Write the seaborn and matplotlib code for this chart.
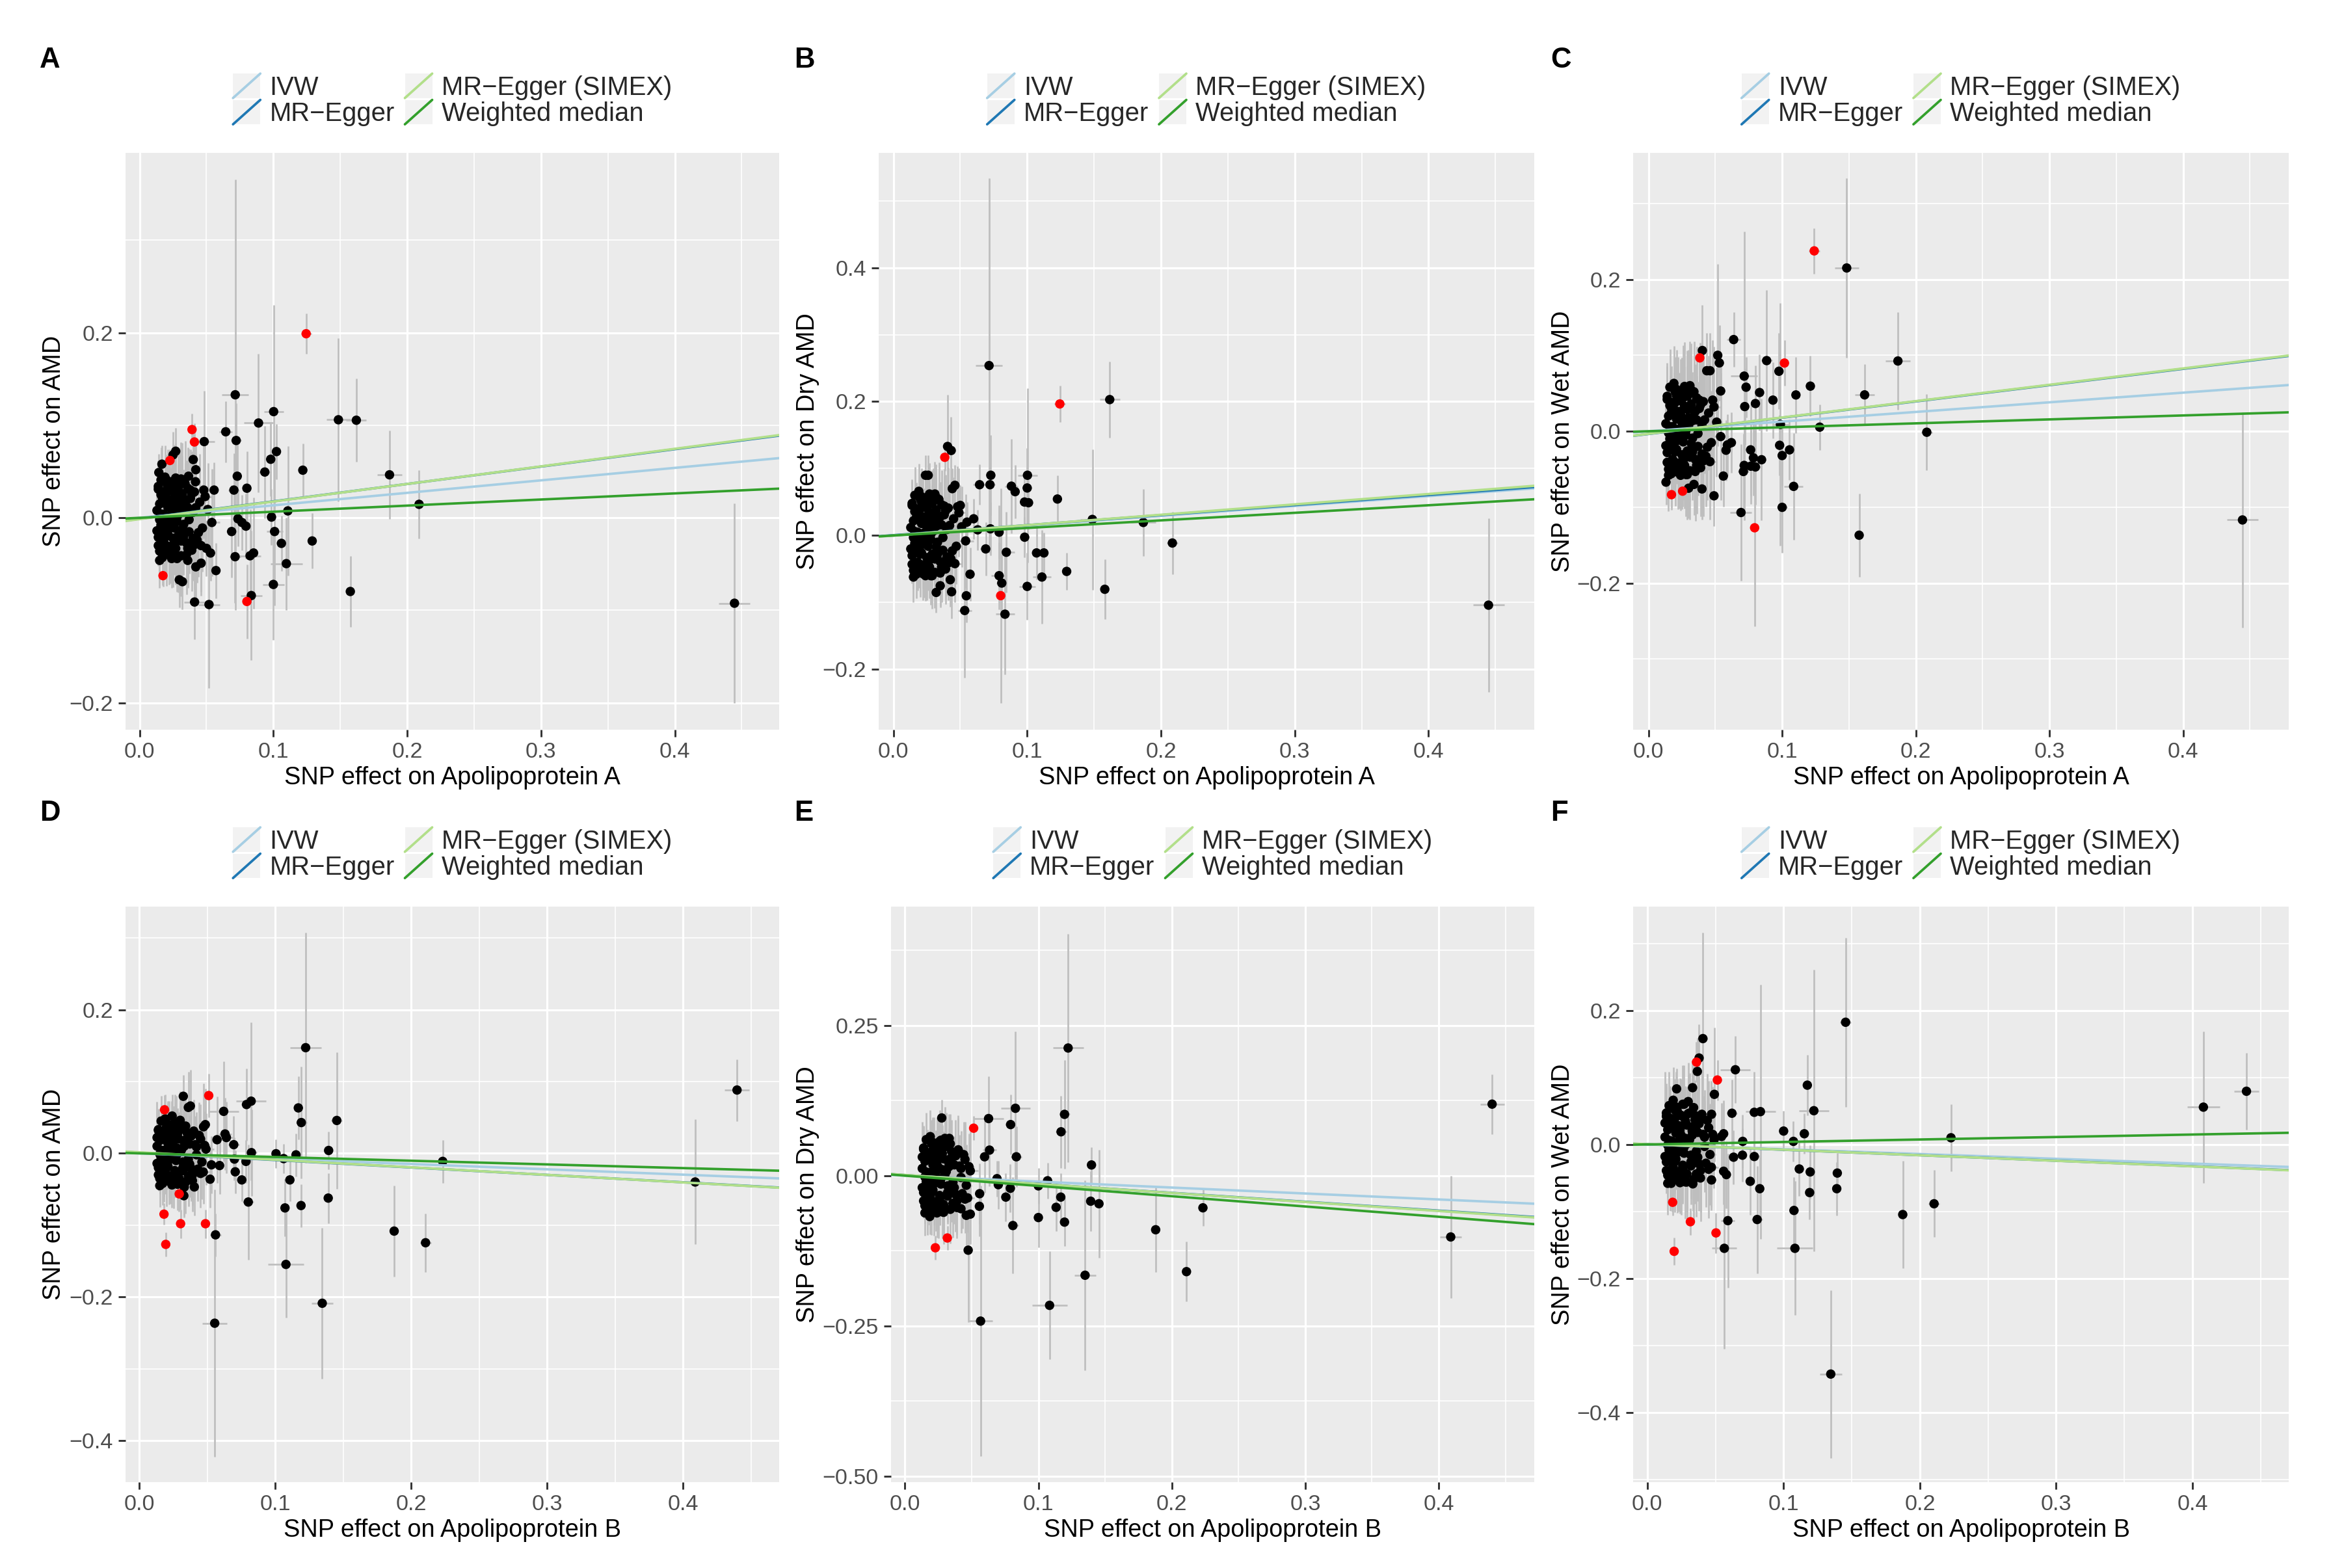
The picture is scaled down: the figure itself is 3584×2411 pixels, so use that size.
import numpy as np
import pandas as pd
import matplotlib
matplotlib.use("Agg")
import matplotlib.pyplot as plt
import seaborn as sns
from matplotlib.lines import Line2D
from matplotlib.patches import Rectangle
from matplotlib.legend_handler import HandlerBase

# ---------------- data ----------------
METHODS = ["IVW", "MR\u2212Egger", "MR\u2212Egger (SIMEX)", "Weighted median"]
METHOD_COLORS = ["#A6CEE3", "#1F78B4", "#B2DF8A", "#33A02C"]

XTICKS = [0.0, 0.1, 0.2, 0.3, 0.4]
XTICKLABELS = ["0.0", "0.1", "0.2", "0.3", "0.4"]

# shared dense clusters (same exposure SNPs)
APOA_CX = [0.013,0.014,0.014,0.015,0.015,0.016,0.016,0.017,0.017,0.018,
           0.018,0.019,0.019,0.020,0.020,0.021,0.021,0.022,0.022,0.023,
           0.023,0.024,0.024,0.025,0.025,0.026,0.026,0.027,0.027,0.028,
           0.029,0.029,0.030,0.031,0.032,0.033,0.034,0.035,0.036,0.037,
           0.038,0.039,0.040,0.041,0.043,0.045,0.047,0.049,0.051,0.054,
           0.015,0.017,0.019,0.021,0.023,0.025,0.028,0.031,0.035,0.044,
           0.014,0.016,0.018,0.020,0.022,0.024,0.026,0.028,0.030,0.032,
           0.034,0.036,0.038,0.016,0.019,0.022,0.025,0.029,0.033,0.040,
           0.013,0.014,0.015,0.016,0.017,0.018,0.019,0.020,0.021,0.022,
           0.023,0.024,0.025,0.026,0.027,0.028,0.029,0.030,0.031,0.032,
           0.033,0.034,0.035,0.036,0.037,0.039,0.041,0.042,0.046,0.048]
APOA_CXSE = [0.002,0.002,0.003,0.002,0.003,0.002,0.003,0.002,0.003,0.002,
             0.003,0.002,0.003,0.003,0.002,0.003,0.002,0.003,0.002,0.003,
             0.002,0.003,0.004,0.002,0.003,0.003,0.002,0.004,0.003,0.003,
             0.004,0.003,0.004,0.003,0.004,0.003,0.005,0.004,0.003,0.004,
             0.005,0.004,0.003,0.005,0.004,0.005,0.004,0.005,0.004,0.006,
             0.002,0.003,0.002,0.003,0.002,0.003,0.004,0.003,0.004,0.005,
             0.002,0.003,0.002,0.003,0.002,0.003,0.003,0.003,0.004,0.003,
             0.004,0.004,0.004,0.002,0.003,0.003,0.003,0.004,0.004,0.005,
             0.002,0.002,0.003,0.002,0.003,0.002,0.003,0.003,0.002,0.003,
             0.003,0.002,0.003,0.003,0.004,0.003,0.003,0.004,0.003,0.004,
             0.004,0.003,0.004,0.004,0.005,0.004,0.005,0.004,0.005,0.005]
APOB_CX = [0.013,0.014,0.014,0.015,0.015,0.016,0.016,0.017,0.017,0.018,
           0.018,0.019,0.019,0.020,0.020,0.021,0.021,0.022,0.022,0.023,
           0.023,0.024,0.024,0.025,0.026,0.026,0.027,0.028,0.029,0.030,
           0.031,0.032,0.033,0.034,0.035,0.036,0.038,0.039,0.041,0.043,
           0.045,0.047,0.049,0.015,0.017,0.019,0.021,0.023,0.025,0.027,
           0.030,0.033,0.037,0.042,0.046,
           0.014,0.016,0.018,0.020,0.022,0.024,0.026,0.028,0.030,0.032,
           0.034,0.036,0.040,0.016,0.019,0.022,0.025,0.029,0.033,0.038,
           0.013,0.014,0.015,0.016,0.017,0.018,0.019,0.020,0.021,0.022,
           0.023,0.024,0.025,0.026,0.027,0.028,0.029,0.031,0.032,0.034,
           0.035,0.037,0.039,0.040,0.042,0.044,0.045,0.048,0.013,0.018]
APOB_CXSE = [0.002,0.002,0.003,0.002,0.003,0.002,0.003,0.002,0.003,0.002,
             0.003,0.002,0.003,0.003,0.002,0.003,0.002,0.003,0.002,0.003,
             0.002,0.003,0.004,0.002,0.003,0.003,0.004,0.003,0.004,0.003,
             0.004,0.003,0.004,0.005,0.004,0.003,0.004,0.005,0.004,0.005,
             0.004,0.005,0.006,0.002,0.003,0.002,0.003,0.002,0.003,0.003,
             0.004,0.003,0.004,0.005,0.004,
             0.002,0.003,0.002,0.003,0.002,0.003,0.003,0.003,0.004,0.003,
             0.004,0.004,0.005,0.002,0.003,0.003,0.003,0.004,0.004,0.004,
             0.002,0.002,0.003,0.002,0.003,0.002,0.003,0.003,0.002,0.003,
             0.003,0.002,0.003,0.003,0.004,0.003,0.003,0.004,0.003,0.004,
             0.004,0.003,0.004,0.004,0.005,0.004,0.005,0.004,0.002,0.003]

# ----- Panel A : ApoA -> AMD
A_X = [0.0715,0.1002,0.0889,0.1486,0.162,0.0483,0.0644,0.0722,0.1023,0.098,
       0.0936,0.122,0.1868,0.2089,0.0835,0.1,0.1097,0.106,0.1009,0.0986,
       0.1108,0.129,0.1575,0.0688,0.0714,0.0826,0.0852,0.0735,0.0765,0.0795,
       0.0411,0.0519,0.0571,0.0297,0.032,0.042,0.046,0.036,0.05,0.053,
       0.0802,0.0705,0.073,0.0557,0.0401,0.042,0.027,0.025,0.0167,0.0144,
       0.0366,0.0418,0.4446]
A_Y = [0.133,0.1148,0.1025,0.106,0.1055,0.0824,0.093,0.0836,0.0716,0.0633,
       0.0495,0.0515,0.0465,0.0146,-0.084,-0.072,-0.0495,-0.0276,-0.0148,0.0008,
       0.0075,-0.025,-0.0796,-0.0148,-0.042,-0.041,-0.038,-0.001,-0.005,-0.009,
       -0.091,-0.0937,-0.057,-0.067,-0.069,-0.053,-0.049,-0.046,-0.033,-0.038,
       0.032,0.03,0.045,0.03,0.063,0.052,0.072,0.068,0.058,0.049,
       0.045,0.039,-0.0923]
A_XSE = [0.010,0.0074,0.011,0.009,0.0075,0.008,0.005,0.004,0.003,0.004,
         0.005,0.002,0.0092,0.003,0.008,0.008,0.012,0.003,0.006,0.003,
         0.002,0.002,0.002,0.004,0.004,0.008,0.003,0.003,0.003,0.003,
         0.008,0.008,0.003,0.003,0.003,0.003,0.003,0.003,0.003,0.003,
         0.003,0.004,0.003,0.003,0.003,0.003,0.002,0.002,0.002,0.002,
         0.003,0.003,0.0117]
A_YSE = [0.233,0.115,0.075,0.088,0.045,0.055,0.033,0.04,0.03,0.04,
         0.05,0.029,0.048,0.037,0.07,0.06,0.05,0.03,0.08,0.03,
         0.07,0.03,0.038,0.05,0.05,0.05,0.06,0.03,0.03,0.035,
         0.04,0.09,0.03,0.03,0.03,0.035,0.035,0.03,0.03,0.03,
         0.04,0.04,0.04,0.03,0.03,0.03,0.025,0.025,0.02,0.02,
         0.03,0.03,0.108]
A_CY = [0.008,-0.021,0.031,-0.036,0.015,0.041,-0.008,-0.043,0.022,-0.026,
        0.004,0.044,-0.012,0.027,-0.038,0.012,-0.017,0.036,-0.031,0.019,
        -0.004,0.029,-0.044,0.009,-0.022,0.039,-0.011,0.024,-0.033,0.001,
        0.033,-0.019,0.014,-0.041,0.026,-0.007,0.037,-0.027,0.011,-0.015,
        0.021,-0.035,0.006,0.028,-0.024,0.017,-0.011,0.023,0.009,-0.005,
        -0.002,0.018,-0.029,0.034,0.003,-0.039,-0.004,0.042,0.019,-0.016,
        -0.030,0.025,-0.002,0.038,-0.040,0.016,-0.027,0.007,0.036,-0.012,
        0.019,-0.033,0.030,-0.016,0.021,-0.009,0.032,-0.042,0.010,-0.022,
        -0.014,0.034,-0.046,0.004,0.028,-0.032,0.020,-0.020,0.040,-0.006,
        -0.036,0.013,0.031,-0.028,0.043,-0.044,0.021,0.005,-0.025,0.040,
        -0.020,0.013,-0.040,0.032,-0.002,0.026,-0.029,0.011,-0.030,0.030]
A_CYSE = [0.020,0.025,0.030,0.022,0.028,0.035,0.024,0.030,0.026,0.032,
          0.028,0.034,0.025,0.030,0.036,0.027,0.031,0.033,0.029,0.035,
          0.030,0.038,0.032,0.034,0.037,0.040,0.033,0.036,0.039,0.035,
          0.042,0.038,0.040,0.044,0.041,0.037,0.046,0.043,0.040,0.045,
          0.048,0.044,0.041,0.050,0.046,0.052,0.047,0.055,0.050,0.058,
          0.022,0.027,0.030,0.032,0.034,0.036,0.038,0.040,0.043,0.048,
          0.022,0.026,0.028,0.030,0.032,0.030,0.034,0.036,0.038,0.035,
          0.040,0.042,0.044,0.024,0.029,0.031,0.035,0.039,0.042,0.046,
          0.022,0.028,0.030,0.024,0.031,0.029,0.032,0.030,0.034,0.031,
          0.035,0.033,0.036,0.034,0.038,0.036,0.037,0.040,0.038,0.041,
          0.042,0.040,0.043,0.044,0.045,0.046,0.048,0.047,0.050,0.052]
A_OUT_X = [0.1245,0.0392,0.041,0.0227,0.0175,0.0802]
A_OUT_Y = [0.199,0.0954,0.082,0.062,-0.0625,-0.0904]
A_OUT_XSE = [0.004,0.003,0.003,0.002,0.002,0.003]
A_OUT_YSE = [0.022,0.017,0.02,0.012,0.012,0.04]
A_SLOPE = [0.135, 0.188, 0.190, 0.066]
A_INTERCEPT = [0.0, -0.001, -0.0014, 0.0]
A_YTICKS = [-0.2, 0.0, 0.2]
A_YTICKLABELS = ["\u22120.2", "0.0", "0.2"]
A_YMINOR = [-0.1, 0.1, 0.3]

# ----- Panel B : ApoA -> Dry AMD
B_X = [0.0715,0.1617,0.0405,0.0432,0.0728,0.1002,0.0644,0.0722,0.0882,0.091,
       0.1,0.098,0.101,0.1226,0.1487,0.1868,0.2085,0.4448,0.158,0.1295,
       0.111,0.107,0.1125,0.1,0.0844,0.079,0.081,0.0834,0.0533,0.0545,
       0.0573,0.0425,0.0435,0.032,0.035,0.0981,0.0725,0.069,0.079,0.063,
       0.024,0.026,0.05,0.044,0.046,0.055,0.06]
B_Y = [0.2538,0.203,0.133,0.127,0.09,0.09,0.0759,0.0759,0.0737,0.0655,
       0.071,0.05,0.049,0.0545,0.024,0.0195,-0.0112,-0.104,-0.0803,-0.0536,
       -0.062,-0.026,-0.026,-0.076,-0.025,-0.06,-0.071,-0.1175,-0.112,-0.09,
       -0.0578,-0.066,-0.084,-0.085,-0.075,-0.0025,0.01,-0.02,0.005,0.0085,
       0.09,0.09,0.045,0.07,0.075,0.02,0.025]
B_XSE = [0.010,0.0075,0.003,0.003,0.003,0.0074,0.005,0.004,0.005,0.003,
         0.003,0.003,0.003,0.002,0.009,0.0092,0.004,0.0117,0.003,0.002,
         0.007,0.003,0.003,0.006,0.006,0.006,0.004,0.007,0.005,0.003,
         0.003,0.003,0.003,0.003,0.003,0.003,0.003,0.004,0.003,0.003,
         0.002,0.002,0.003,0.003,0.003,0.003,0.003]
B_YSE = [0.28,0.057,0.077,0.05,0.06,0.13,0.03,0.045,0.07,0.04,
         0.06,0.04,0.04,0.035,0.105,0.05,0.047,0.13,0.045,0.028,
         0.07,0.04,0.03,0.05,0.06,0.05,0.05,0.09,0.1,0.04,
         0.04,0.04,0.04,0.03,0.03,0.03,0.04,0.04,0.04,0.03,
         0.03,0.03,0.03,0.03,0.03,0.03,0.03]
B_CY = [0.012,-0.030,0.045,-0.052,0.022,0.060,-0.012,-0.058,0.034,-0.040,
        0.005,0.066,-0.020,0.040,-0.049,0.018,-0.026,0.052,-0.044,0.028,
        -0.006,0.042,-0.060,0.013,-0.033,0.057,-0.016,0.035,-0.047,0.002,
        0.048,-0.028,0.020,-0.055,0.038,-0.010,0.054,-0.039,0.016,-0.022,
        0.031,-0.050,0.009,0.041,-0.035,0.025,-0.016,0.034,0.013,-0.008,
        -0.003,0.026,-0.042,0.050,0.004,-0.054,-0.006,0.062,0.028,-0.023,
        -0.043,0.036,-0.003,0.055,-0.057,0.023,-0.038,0.010,0.052,-0.017,
        0.028,-0.047,0.044,-0.023,0.030,-0.013,0.046,-0.060,0.015,-0.032,
        -0.020,0.048,-0.062,0.006,0.040,-0.045,0.028,-0.028,0.058,-0.008,
        -0.050,0.018,0.044,-0.040,0.062,-0.060,0.030,0.007,-0.035,0.057,
        -0.028,0.018,-0.056,0.046,-0.003,0.037,-0.041,0.015,-0.042,0.043]
B_CYSE = [0.025,0.030,0.036,0.027,0.034,0.042,0.029,0.036,0.031,0.038,
          0.034,0.041,0.030,0.036,0.043,0.032,0.037,0.040,0.035,0.042,
          0.036,0.046,0.038,0.041,0.044,0.048,0.040,0.043,0.047,0.042,
          0.050,0.046,0.048,0.053,0.049,0.044,0.055,0.052,0.048,0.054,
          0.058,0.053,0.049,0.060,0.055,0.062,0.056,0.066,0.060,0.070,
          0.026,0.032,0.036,0.038,0.041,0.043,0.046,0.048,0.052,0.058,
          0.028,0.032,0.035,0.038,0.040,0.038,0.043,0.045,0.048,0.044,
          0.050,0.053,0.055,0.030,0.036,0.039,0.044,0.049,0.053,0.058,
          0.030,0.036,0.038,0.032,0.039,0.037,0.040,0.038,0.042,0.039,
          0.043,0.041,0.044,0.042,0.046,0.044,0.045,0.048,0.046,0.049,
          0.050,0.048,0.051,0.052,0.053,0.054,0.056,0.055,0.058,0.060]
B_OUT_X = [0.1244,0.0384,0.0802]
B_OUT_Y = [0.1965,0.1168,-0.0898]
B_OUT_XSE = [0.004,0.003,0.003]
B_OUT_YSE = [0.027,0.02,0.16]
B_SLOPE = [0.147, 0.150, 0.155, 0.113]
B_INTERCEPT = [0.0, 0.0005, 0.0, 0.0]
B_YTICKS = [-0.2, 0.0, 0.2, 0.4]
B_YTICKLABELS = ["\u22120.2", "0.0", "0.2", "0.4"]
B_YMINOR = [-0.1, 0.1, 0.3, 0.5]

# ----- Panel C : ApoA -> Wet AMD
C_X = [0.1483,0.0637,0.0403,0.0518,0.053,0.0884,0.1866,0.0976,0.0436,0.046,
       0.0716,0.1211,0.073,0.054,0.1103,0.1617,0.0831,0.0931,0.08,0.072,
       0.1281,0.0987,0.2082,0.0981,0.1055,0.1,0.0764,0.0785,0.08,0.0765,
       0.0716,0.071,0.0846,0.1086,0.1,0.0692,0.1576,0.4444,0.03,0.034,
       0.04,0.049,0.056,0.0131,0.059,0.058,0.062]
C_Y = [0.215,0.1207,0.1063,0.1,0.09,0.093,0.0925,0.079,0.0797,0.0797,
       0.0726,0.0594,0.058,0.053,0.0478,0.0479,0.051,0.041,0.0365,0.0325,
       0.0054,0.009,-0.0013,-0.0185,-0.0245,-0.032,-0.0245,-0.035,-0.047,-0.046,
       -0.045,-0.053,-0.0375,-0.0726,-0.1002,-0.107,-0.1369,-0.1168,-0.075,-0.07,
       -0.076,-0.085,-0.059,-0.067,-0.018,-0.025,-0.015]
C_XSE = [0.009,0.005,0.003,0.003,0.003,0.004,0.0092,0.003,0.003,0.003,
         0.010,0.002,0.003,0.003,0.003,0.0075,0.003,0.003,0.003,0.003,
         0.002,0.006,0.004,0.003,0.003,0.003,0.003,0.003,0.005,0.003,
         0.004,0.004,0.003,0.007,0.004,0.008,0.003,0.0117,0.003,0.003,
         0.003,0.003,0.003,0.002,0.003,0.003,0.003]
C_YSE = [0.118,0.036,0.06,0.12,0.05,0.093,0.064,0.05,0.05,0.05,
         0.19,0.04,0.04,0.04,0.05,0.04,0.05,0.05,0.05,0.05,
         0.03,0.16,0.05,0.04,0.04,0.04,0.06,0.05,0.05,0.05,
         0.05,0.05,0.08,0.07,0.06,0.09,0.055,0.142,0.04,0.04,
         0.04,0.04,0.04,0.03,0.04,0.04,0.04]
C_CY = [0.010,-0.028,0.042,-0.050,0.020,0.058,-0.010,-0.056,0.031,-0.037,
        0.006,0.063,-0.018,0.038,-0.046,0.016,-0.024,0.050,-0.042,0.026,
        -0.005,0.040,-0.058,0.012,-0.031,0.055,-0.014,0.033,-0.045,0.001,
        0.046,-0.026,0.018,-0.052,0.036,-0.009,0.052,-0.037,0.015,-0.020,
        0.030,-0.048,0.008,0.039,-0.033,0.024,-0.015,0.032,0.012,-0.007,
        -0.002,0.024,-0.040,0.047,0.003,-0.051,-0.005,0.060,0.026,-0.021,
        -0.041,0.034,-0.003,0.052,-0.054,0.022,-0.036,0.009,0.049,-0.016,
        0.027,-0.045,0.041,-0.022,0.029,-0.012,0.044,-0.057,0.014,-0.030,
        -0.019,0.046,-0.058,0.006,0.038,-0.043,0.027,-0.027,0.055,-0.008,
        -0.048,0.017,0.042,-0.038,0.059,-0.057,0.029,0.007,-0.034,0.054,
        -0.027,0.017,-0.053,0.044,-0.003,0.035,-0.039,0.015,-0.040,0.041]
C_CYSE = [0.030,0.036,0.044,0.033,0.041,0.050,0.035,0.044,0.038,0.046,
          0.041,0.049,0.036,0.044,0.052,0.039,0.045,0.048,0.042,0.051,
          0.044,0.055,0.046,0.050,0.053,0.058,0.048,0.052,0.057,0.050,
          0.060,0.055,0.058,0.064,0.059,0.053,0.066,0.062,0.058,0.065,
          0.070,0.064,0.059,0.072,0.066,0.075,0.068,0.079,0.072,0.084,
          0.032,0.038,0.043,0.046,0.049,0.052,0.055,0.058,0.062,0.070,
          0.034,0.039,0.042,0.046,0.049,0.046,0.052,0.055,0.058,0.054,
          0.061,0.064,0.067,0.036,0.044,0.047,0.053,0.059,0.064,0.070,
          0.036,0.044,0.047,0.038,0.048,0.045,0.050,0.047,0.052,0.049,
          0.054,0.051,0.055,0.053,0.058,0.055,0.057,0.061,0.058,0.062,
          0.064,0.061,0.065,0.067,0.068,0.070,0.073,0.071,0.076,0.079]
C_OUT_X = [0.124,0.0384,0.1017,0.0794,0.0172,0.0255]
C_OUT_Y = [0.2375,0.0966,0.0898,-0.1271,-0.0835,-0.0789]
C_OUT_XSE = [0.004,0.003,0.003,0.003,0.002,0.002]
C_OUT_YSE = [0.03,0.02,0.03,0.13,0.02,0.02]
C_SLOPE = [0.127, 0.2145, 0.2153, 0.052]
C_INTERCEPT = [0.0, -0.0036, -0.0034, 0.0]
C_YTICKS = [-0.2, 0.0, 0.2]
C_YTICKLABELS = ["\u22120.2", "0.0", "0.2"]
C_YMINOR = [-0.3, -0.1, 0.1, 0.3]

# ----- Panel D : ApoB -> AMD
D_X = [0.1223,0.1452,0.1169,0.1191,0.0822,0.0788,0.062,0.0323,0.0241,0.036,
       0.0375,0.0472,0.0485,0.063,0.064,0.0571,0.0694,0.0824,0.1005,0.1061,
       0.1152,0.1392,0.2231,0.0699,0.0705,0.0784,0.0753,0.0801,0.1107,0.1071,
       0.1189,0.1389,0.053,0.059,0.052,0.0404,0.03,0.033,0.0327,0.056,
       0.0554,0.1078,0.1345,0.1874,0.2105,0.4088,0.4396]
D_Y = [0.1472,0.0458,0.0633,0.0429,0.0727,0.068,0.0585,0.0795,0.052,0.064,
       0.066,0.037,0.04,0.027,0.022,0.019,0.0121,0.001,-0.0005,-0.0073,
       -0.0021,0.004,-0.0112,-0.008,-0.0257,-0.0112,-0.037,-0.0678,-0.037,-0.076,
       -0.0727,-0.0623,-0.016,-0.017,-0.036,-0.0468,-0.038,-0.047,-0.059,-0.1135,
       -0.2366,-0.1547,-0.2088,-0.1083,-0.1245,-0.0399,0.0882]
D_XSE = [0.0115,0.004,0.003,0.004,0.011,0.004,0.011,0.003,0.002,0.003,
         0.003,0.003,0.003,0.005,0.005,0.004,0.004,0.004,0.002,0.002,
         0.002,0.002,0.002,0.003,0.003,0.003,0.003,0.004,0.003,0.002,
         0.002,0.002,0.003,0.003,0.003,0.003,0.003,0.003,0.003,0.004,
         0.009,0.0132,0.008,0.003,0.004,0.004,0.009]
D_YSE = [0.16,0.095,0.044,0.078,0.11,0.05,0.07,0.03,0.03,0.05,
         0.05,0.06,0.05,0.05,0.05,0.06,0.04,0.06,0.02,0.02,
         0.03,0.026,0.03,0.03,0.03,0.03,0.03,0.08,0.03,0.04,
         0.03,0.035,0.04,0.04,0.04,0.04,0.04,0.04,0.03,0.03,
         0.186,0.074,0.105,0.063,0.041,0.087,0.043]
D_CY = [0.010,-0.020,0.032,-0.035,0.018,0.045,-0.006,-0.042,0.025,-0.028,
        0.004,0.048,-0.012,0.030,-0.038,0.014,-0.018,0.040,-0.032,0.022,
        -0.003,0.035,-0.044,0.011,-0.024,0.042,-0.010,0.027,-0.034,0.002,
        0.036,-0.020,0.016,-0.040,0.029,-0.008,0.024,-0.030,0.012,-0.022,
        0.020,-0.026,0.006,-0.001,0.021,-0.027,0.038,0.005,-0.041,-0.004,
        0.046,0.017,-0.015,0.009,-0.012,
        -0.030,0.026,-0.002,0.037,-0.039,0.016,-0.026,0.007,0.033,-0.012,
        0.019,-0.032,0.028,-0.015,0.022,-0.009,0.031,-0.042,0.010,-0.021,
        -0.014,0.033,-0.045,0.004,0.027,-0.031,0.019,-0.020,0.039,-0.006,
        -0.035,0.013,0.030,-0.027,0.042,-0.043,0.020,0.005,-0.024,0.038,
        -0.019,0.013,-0.038,0.031,-0.002,0.025,-0.028,0.011,0.022,-0.016]
D_CYSE = [0.020,0.025,0.030,0.022,0.028,0.035,0.024,0.030,0.026,0.032,
          0.028,0.034,0.025,0.030,0.036,0.027,0.031,0.033,0.029,0.035,
          0.030,0.038,0.032,0.034,0.037,0.040,0.033,0.036,0.039,0.035,
          0.042,0.038,0.040,0.044,0.041,0.037,0.046,0.043,0.040,0.045,
          0.048,0.044,0.050,0.022,0.027,0.030,0.032,0.034,0.036,0.038,
          0.040,0.043,0.046,0.048,0.052,
          0.022,0.026,0.028,0.030,0.032,0.030,0.034,0.036,0.038,0.035,
          0.040,0.042,0.044,0.024,0.029,0.031,0.035,0.039,0.042,0.046,
          0.022,0.028,0.030,0.024,0.031,0.029,0.032,0.030,0.034,0.031,
          0.035,0.033,0.036,0.034,0.038,0.036,0.037,0.040,0.038,0.041,
          0.042,0.040,0.043,0.044,0.045,0.046,0.048,0.047,0.050,0.052]
D_OUT_X = [0.051,0.0185,0.0293,0.0181,0.0303,0.0486,0.0194]
D_OUT_Y = [0.0805,0.0607,-0.0565,-0.0847,-0.098,-0.098,-0.1268]
D_OUT_XSE = [0.003,0.002,0.003,0.002,0.002,0.003,0.002]
D_OUT_YSE = [0.03,0.02,0.02,0.015,0.02,0.02,0.017]
D_SLOPE = [-0.0742, -0.1034, -0.105, -0.0514]
D_INTERCEPT = [0.0, 0.001, 0.0015, 0.0]
D_YTICKS = [-0.4, -0.2, 0.0, 0.2]
D_YTICKLABELS = ["\u22120.4", "\u22120.2", "0.0", "0.2"]
D_YMINOR = [-0.3, -0.1, 0.1, 0.3]

# ----- Panel E : ApoB -> Dry AMD
E_X = [0.1223,0.0828,0.1196,0.117,0.0792,0.0627,0.0276,0.0332,0.0835,0.0597,
       0.0634,0.1398,0.44,0.409,0.2233,0.1879,0.211,0.135,0.1084,0.0567,
       0.0474,0.0809,0.1,0.1196,0.1133,0.1168,0.1392,0.1454,0.1069,0.1,
       0.079,0.0756,0.07,0.069,0.0558,0.046,0.049,0.0186,0.056,0.042]
E_Y = [0.2124,0.1121,0.102,0.073,0.085,0.095,0.096,0.062,0.0314,0.0314,
       0.0425,0.0178,0.119,-0.102,-0.0535,-0.09,-0.1597,-0.1657,-0.2158,-0.242,
       -0.124,-0.083,-0.0697,-0.0773,-0.0527,-0.0357,-0.0425,-0.0467,-0.0085,-0.017,
       -0.021,-0.0357,-0.015,-0.005,-0.051,-0.066,-0.064,-0.068,-0.03,-0.055]
E_XSE = [0.0115,0.011,0.004,0.004,0.004,0.011,0.003,0.003,0.004,0.004,
         0.005,0.002,0.009,0.008,0.003,0.002,0.003,0.008,0.0132,0.009,
         0.003,0.004,0.003,0.002,0.003,0.003,0.003,0.003,0.003,0.003,
         0.003,0.003,0.003,0.003,0.003,0.003,0.003,0.002,0.003,0.003]
E_YSE = [0.19,0.128,0.09,0.06,0.05,0.07,0.03,0.04,0.05,0.06,
         0.06,0.03,0.05,0.102,0.03,0.07,0.05,0.158,0.09,0.225,
         0.12,0.08,0.05,0.04,0.04,0.04,0.05,0.09,0.03,0.03,
         0.04,0.04,0.04,0.03,0.05,0.05,0.05,0.03,0.05,0.04]
E_CY = [0.012,-0.028,0.044,-0.050,0.024,0.060,-0.010,-0.060,0.034,-0.040,
        0.005,0.065,-0.018,0.040,-0.052,0.018,-0.024,0.054,-0.045,0.030,
        -0.005,0.047,-0.062,0.014,-0.033,0.057,-0.014,0.037,-0.048,0.002,
        0.050,-0.028,0.021,-0.056,0.040,-0.011,0.033,-0.042,0.016,-0.030,
        0.027,-0.037,0.008,-0.002,0.029,-0.037,0.052,0.006,-0.057,-0.005,
        0.062,0.023,-0.020,0.012,-0.016,
        -0.042,0.036,-0.003,0.053,-0.057,0.024,-0.037,0.010,0.048,-0.017,
        0.028,-0.046,0.040,-0.022,0.032,-0.013,0.045,-0.061,0.015,-0.031,
        -0.020,0.046,-0.062,0.006,0.038,-0.044,0.027,-0.028,0.055,-0.008,
        -0.049,0.018,0.042,-0.038,0.059,-0.060,0.028,0.007,-0.034,0.053,
        -0.027,0.018,-0.053,0.043,-0.003,0.035,-0.039,0.015,0.031,-0.022]
E_CYSE = [0.026,0.032,0.039,0.029,0.036,0.045,0.031,0.039,0.034,0.041,
          0.036,0.044,0.032,0.039,0.047,0.035,0.040,0.043,0.038,0.045,
          0.039,0.049,0.041,0.044,0.048,0.052,0.043,0.047,0.051,0.045,
          0.055,0.049,0.052,0.057,0.053,0.048,0.060,0.056,0.052,0.058,
          0.062,0.057,0.065,0.029,0.035,0.039,0.042,0.044,0.047,0.049,
          0.052,0.056,0.060,0.062,0.068,
          0.029,0.034,0.037,0.040,0.043,0.040,0.046,0.048,0.051,0.047,
          0.054,0.057,0.060,0.032,0.038,0.042,0.047,0.053,0.057,0.062,
          0.030,0.036,0.038,0.032,0.039,0.037,0.040,0.038,0.042,0.039,
          0.043,0.041,0.044,0.042,0.046,0.044,0.045,0.048,0.046,0.049,
          0.050,0.048,0.051,0.052,0.053,0.054,0.056,0.055,0.058,0.060]
E_OUT_X = [0.0515,0.0228,0.0318]
E_OUT_Y = [0.079,-0.12,-0.1037]
E_OUT_XSE = [0.003,0.002,0.002]
E_OUT_YSE = [0.02,0.02,0.02]
E_SLOPE = [-0.099, -0.148, -0.150, -0.171]
E_INTERCEPT = [0.0, 0.001, 0.0012, 0.0]
E_YTICKS = [-0.5, -0.25, 0.0, 0.25]
E_YTICKLABELS = ["\u22120.50", "\u22120.25", "0.00", "0.25"]
E_YMINOR = [-0.375, -0.125, 0.125, 0.375]

# ----- Panel F : ApoB -> Wet AMD
F_X = [0.1455,0.0408,0.038,0.0367,0.0646,0.1174,0.0492,0.0332,0.0215,0.1222,
       0.408,0.4396,0.083,0.0785,0.0621,0.0471,0.0354,0.1,0.1152,0.1072,
       0.2228,0.07,0.0698,0.0633,0.0785,0.056,0.0545,0.1115,0.1195,0.1394,
       0.139,0.1191,0.0825,0.0755,0.056,0.058,0.0471,0.1076,0.0806,0.0591,
       0.1083,0.0565,0.1874,0.2104,0.1346,0.0334,0.0175]
F_Y = [0.1824,0.158,0.129,0.109,0.1115,0.0885,0.0748,0.0847,0.083,0.0504,
       0.0557,0.0794,0.049,0.048,0.0466,0.045,0.043,0.02,0.016,0.0046,
       0.01,0.0046,-0.016,-0.019,-0.018,0.016,0.012,-0.0366,-0.041,-0.0427,
       -0.066,-0.0718,-0.066,-0.055,-0.04,-0.045,-0.053,-0.0985,-0.112,-0.1137,
       -0.155,-0.155,-0.1046,-0.0885,-0.3427,-0.0588,-0.058]
F_XSE = [0.004,0.003,0.003,0.003,0.011,0.003,0.003,0.003,0.002,0.011,
         0.012,0.009,0.011,0.004,0.004,0.003,0.003,0.003,0.003,0.003,
         0.003,0.003,0.003,0.003,0.003,0.003,0.003,0.003,0.003,0.002,
         0.002,0.003,0.003,0.003,0.003,0.003,0.003,0.003,0.004,0.005,
         0.0132,0.009,0.003,0.004,0.008,0.003,0.002]
F_YSE = [0.126,0.158,0.05,0.05,0.05,0.045,0.1,0.04,0.03,0.21,
         0.113,0.057,0.19,0.06,0.05,0.05,0.04,0.03,0.03,0.03,
         0.05,0.04,0.04,0.04,0.04,0.05,0.05,0.04,0.04,0.03,
         0.04,0.04,0.05,0.05,0.05,0.05,0.04,0.05,0.08,0.1,
         0.1,0.15,0.08,0.05,0.125,0.04,0.03]
F_CY = [0.011,-0.026,0.042,-0.046,0.022,0.058,-0.008,-0.055,0.032,-0.037,
        0.005,0.066,-0.016,0.038,-0.049,0.017,-0.022,0.050,-0.041,0.028,
        -0.004,0.044,-0.057,0.013,-0.031,0.060,-0.013,0.035,-0.044,0.002,
        0.047,-0.026,0.020,-0.052,0.037,-0.010,0.031,-0.039,0.015,-0.028,
        0.025,-0.034,0.007,-0.001,0.027,-0.034,0.050,0.005,-0.053,-0.004,
        0.064,0.021,-0.019,0.011,-0.015,
        -0.039,0.034,-0.003,0.052,-0.053,0.022,-0.035,0.009,0.046,-0.016,
        0.027,-0.044,0.039,-0.021,0.030,-0.012,0.043,-0.056,0.014,-0.029,
        -0.018,0.047,-0.058,0.006,0.039,-0.042,0.028,-0.026,0.056,-0.008,
        -0.046,0.018,0.043,-0.036,0.060,-0.056,0.029,0.007,-0.032,0.055,
        -0.025,0.018,-0.050,0.045,-0.003,0.036,-0.037,0.015,0.032,-0.021]
F_CYSE = [0.030,0.036,0.044,0.033,0.041,0.050,0.035,0.044,0.038,0.046,
          0.041,0.049,0.036,0.044,0.052,0.039,0.045,0.048,0.042,0.051,
          0.044,0.055,0.046,0.050,0.053,0.058,0.048,0.052,0.057,0.050,
          0.060,0.055,0.058,0.064,0.059,0.053,0.066,0.062,0.058,0.065,
          0.070,0.064,0.072,0.032,0.038,0.043,0.046,0.049,0.052,0.055,
          0.058,0.062,0.066,0.070,0.076,
          0.034,0.039,0.042,0.046,0.049,0.046,0.052,0.055,0.058,0.054,
          0.061,0.064,0.067,0.036,0.044,0.047,0.053,0.059,0.064,0.070,
          0.036,0.044,0.047,0.038,0.048,0.045,0.050,0.047,0.052,0.049,
          0.054,0.051,0.055,0.053,0.058,0.055,0.057,0.061,0.058,0.062,
          0.064,0.061,0.065,0.067,0.068,0.070,0.073,0.071,0.076,0.079]
F_OUT_X = [0.0361,0.0514,0.0186,0.0316,0.0504,0.0197]
F_OUT_Y = [0.1229,0.0962,-0.0863,-0.1153,-0.132,-0.1595]
F_OUT_XSE = [0.003,0.003,0.002,0.002,0.003,0.002]
F_OUT_YSE = [0.03,0.03,0.02,0.02,0.03,0.02]
F_SLOPE = [-0.0713, -0.082, -0.083, 0.037]
F_INTERCEPT = [0.0, 0.0003, 0.0005, 0.0]
F_YTICKS = [-0.4, -0.2, 0.0, 0.2]
F_YTICKLABELS = ["\u22120.4", "\u22120.2", "0.0", "0.2"]
F_YMINOR = [-0.5, -0.3, -0.1, 0.1, 0.3]

# ---------------- style ----------------
sns.set_theme(style="darkgrid")
plt.rcParams["font.family"] = ["Liberation Sans", "DejaVu Sans"]
plt.rcParams["axes.unicode_minus"] = True

W, H = 3584, 2411
DPI = 300
fig = plt.figure(figsize=(W / DPI, H / DPI), dpi=DPI, facecolor="white")


def fx(px):
    return px / W


def fy(py):
    return 1 - py / H


class DiagHandler(HandlerBase):
    def create_artists(self, legend, orig_handle, xdescent, ydescent,
                       width, height, fontsize, trans):
        bg = Rectangle((-xdescent, -ydescent), width, height,
                       facecolor="#F2F2F2", edgecolor="none", transform=trans)
        ln = Line2D([-xdescent, -xdescent + width], [-ydescent, -ydescent + height],
                    color=orig_handle.get_color(), lw=0.9, transform=trans)
        return [bg, ln]


panels = [
    dict(letter="A", box=(193, 235, 1198, 1122), letter_xy=(61, 92),
         ylabel="SNP effect on AMD", ylab_x=83, xlabel="SNP effect on Apolipoprotein A",
         xlim=(-0.0105, 0.478), ylim=(-0.229, 0.3945),
         pts=(A_X, A_Y, A_XSE, A_YSE), clu=(APOA_CX, A_CY, APOA_CXSE, A_CYSE),
         out=(A_OUT_X, A_OUT_Y, A_OUT_XSE, A_OUT_YSE),
         lines=(A_SLOPE, A_INTERCEPT), yt=(A_YTICKS, A_YTICKLABELS, A_YMINOR)),
    dict(letter="B", box=(1351, 235, 2359, 1122), letter_xy=(1221, 92),
         ylabel="SNP effect on Dry AMD", ylab_x=1242, xlabel="SNP effect on Apolipoprotein A",
         xlim=(-0.0110, 0.479), ylim=(-0.290, 0.5715),
         pts=(B_X, B_Y, B_XSE, B_YSE), clu=(APOA_CX, B_CY, APOA_CXSE, B_CYSE),
         out=(B_OUT_X, B_OUT_Y, B_OUT_XSE, B_OUT_YSE),
         lines=(B_SLOPE, B_INTERCEPT), yt=(B_YTICKS, B_YTICKLABELS, B_YMINOR)),
    dict(letter="C", box=(2511, 235, 3519, 1122), letter_xy=(2384, 92),
         ylabel="SNP effect on Wet AMD", ylab_x=2403, xlabel="SNP effect on Apolipoprotein A",
         xlim=(-0.0115, 0.479), ylim=(-0.393, 0.3666),
         pts=(C_X, C_Y, C_XSE, C_YSE), clu=(APOA_CX, C_CY, APOA_CXSE, C_CYSE),
         out=(C_OUT_X, C_OUT_Y, C_OUT_XSE, C_OUT_YSE),
         lines=(C_SLOPE, C_INTERCEPT), yt=(C_YTICKS, C_YTICKLABELS, C_YMINOR)),
    dict(letter="D", box=(193, 1394, 1198, 2279), letter_xy=(61, 1250),
         ylabel="SNP effect on AMD", ylab_x=83, xlabel="SNP effect on Apolipoprotein B",
         xlim=(-0.0102, 0.4706), ylim=(-0.458, 0.3437),
         pts=(D_X, D_Y, D_XSE, D_YSE), clu=(APOB_CX, D_CY, APOB_CXSE, D_CYSE),
         out=(D_OUT_X, D_OUT_Y, D_OUT_XSE, D_OUT_YSE),
         lines=(D_SLOPE, D_INTERCEPT), yt=(D_YTICKS, D_YTICKLABELS, D_YMINOR)),
    dict(letter="E", box=(1370, 1394, 2359, 2279), letter_xy=(1221, 1250),
         ylabel="SNP effect on Dry AMD", ylab_x=1242, xlabel="SNP effect on Apolipoprotein B",
         xlim=(-0.0104, 0.4716), ylim=(-0.510, 0.4477),
         pts=(E_X, E_Y, E_XSE, E_YSE), clu=(APOB_CX, E_CY, APOB_CXSE, E_CYSE),
         out=(E_OUT_X, E_OUT_Y, E_OUT_XSE, E_OUT_YSE),
         lines=(E_SLOPE, E_INTERCEPT), yt=(E_YTICKS, E_YTICKLABELS, E_YMINOR)),
    dict(letter="F", box=(2511, 1394, 3519, 2279), letter_xy=(2384, 1250),
         ylabel="SNP effect on Wet AMD", ylab_x=2403, xlabel="SNP effect on Apolipoprotein B",
         xlim=(-0.0104, 0.4706), ylim=(-0.504, 0.355),
         pts=(F_X, F_Y, F_XSE, F_YSE), clu=(APOB_CX, F_CY, APOB_CXSE, F_CYSE),
         out=(F_OUT_X, F_OUT_Y, F_OUT_XSE, F_OUT_YSE),
         lines=(F_SLOPE, F_INTERCEPT), yt=(F_YTICKS, F_YTICKLABELS, F_YMINOR)),
]

XMINOR = [0.05, 0.15, 0.25, 0.35, 0.45]

for p in panels:
    x0, y0, x1, y1 = p["box"]
    ax = fig.add_axes([fx(x0), fy(y1), (x1 - x0) / W, (y1 - y0) / H])
    ax.set_facecolor("#EBEBEB")
    for s in ax.spines.values():
        s.set_visible(False)

    frames = []
    for grp, arrs in (("SNP", p["clu"]), ("SNP", p["pts"]), ("Outlier", p["out"])):
        xs, ys, xse, yse = arrs
        assert len(xs) == len(ys) == len(xse) == len(yse), (p["letter"], grp, len(xs), len(ys), len(xse), len(yse))
        frames.append(pd.DataFrame({"x": xs, "y": ys, "xse": xse, "yse": yse, "group": grp}))
    df = pd.concat(frames, ignore_index=True)

    ax.errorbar(df["x"], df["y"], xerr=df["xse"], yerr=df["yse"], fmt="none",
                ecolor="#BEBEBE", elinewidth=0.65, capsize=0, zorder=2)
    sns.scatterplot(data=df, x="x", y="y", hue="group",
                    palette={"SNP": "black", "Outlier": "#FF0000"},
                    s=12, linewidth=0, legend=False, ax=ax, zorder=3)

    slopes, intercepts = p["lines"]
    for m, b, c in zip(slopes, intercepts, METHOD_COLORS):
        ax.axline((0.0, b), slope=m, color=c, lw=0.9, zorder=4)

    ax.set_xlim(*p["xlim"])
    ax.set_ylim(*p["ylim"])
    ax.set_xticks(XTICKS, labels=XTICKLABELS)
    ax.set_xticks(XMINOR, minor=True)
    yt, ytl, ym = p["yt"]
    ax.set_yticks(yt, labels=ytl)
    ax.set_yticks(ym, minor=True)
    ax.grid(which="major", color="white", lw=0.75)
    ax.grid(which="minor", color="white", lw=0.4)
    ax.set_axisbelow(True)
    ax.tick_params(which="major", length=2.6, width=0.7, color="#333333",
                   labelcolor="#4D4D4D", labelsize=8.2, pad=2,
                   bottom=True, left=True)
    ax.tick_params(which="minor", length=0)

    ax.set_xlabel(p["xlabel"], fontsize=9.1, color="black", va="center")
    ax.xaxis.set_label_coords(0.5, -74 / (y1 - y0))
    ax.set_ylabel(p["ylabel"], fontsize=9.1, color="black", va="center")
    ax.yaxis.set_label_coords((p["ylab_x"] - x0) / (x1 - x0), 0.5)

    handles = [Line2D([], [], color=c, lw=0.9) for c in METHOD_COLORS]
    ax.legend(handles, METHODS, handler_map={Line2D: DiagHandler()}, ncol=2,
              loc="lower center", bbox_to_anchor=(0.5, 1 + 41 / (y1 - y0)),
              frameon=False, borderpad=0, borderaxespad=0, labelspacing=0,
              handlelength=1.05, handleheight=1.07, handletextpad=0.35,
              columnspacing=0.4, fontsize=9.6)

    lx, ly = p["letter_xy"]
    fig.text(fx(lx), fy(ly), p["letter"], fontsize=10.5, fontweight="bold",
             ha="left", va="center", color="black")

fig.savefig("out.png", dpi=DPI, facecolor="white")
